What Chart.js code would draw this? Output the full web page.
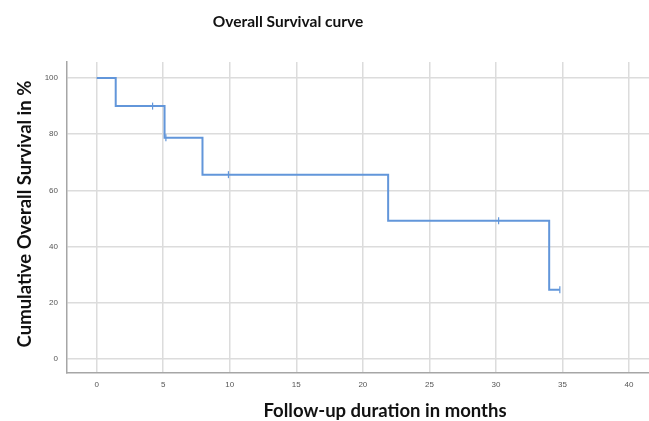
<!DOCTYPE html>
<html>
<head>
<meta charset="utf-8">
<script src="https://cdn.jsdelivr.net/npm/chart.js@4/dist/chart.umd.min.js"></script>
<style>
  html, body { margin: 0; padding: 0; background: #fff; }
  #wrap { width: 649px; height: 421px; position: relative; }
</style>
</head>
<body>
<div id="wrap"><canvas id="survivalChart"></canvas></div>
<script>
"use strict"

// Kaplan-Meier steps
const eventTimes = [0, 1.43, 5.1, 7.95, 21.9, 34.0, 34.8]
const survival = [100, 90, 78.75, 65.6, 49.2, 24.6, 24.6]

// censored cases (small vertical ticks)
const censorTimes = [4.2, 5.2, 9.9, 30.2, 34.8]
const censorSurvival = [90, 78.75, 65.6, 49.2, 24.6]

const xTicks = [0, 5, 10, 15, 20, 25, 30, 35, 40]
const yTicks = [0, 20, 40, 60, 80, 100]

const chartTitle = 'Overall Survival curve'
const xTitle = 'Follow-up duration in months'
const yTitle = 'Cumulative Overall Survival in %'

const lineBlue = 'rgb(98, 150, 218)'
const gridGrey = '#dcdcdc'
const axisGrey = '#a6a6a6'
const titleFont = 'Lato'

// titles are placed by hand, the original was cropped so they are off-centre
let titlesPlugin = {
    id: 'titles',
    afterDraw: function(chart) {
        let ctx = chart.ctx
        ctx.save()
        ctx.fillStyle = '#111'
        ctx.textAlign = 'center'
        ctx.textBaseline = 'middle'

        ctx.font = 'bold 15.5px ' + titleFont
        ctx.fillText(chartTitle, 288, 22)

        ctx.font = 'bold 18.5px ' + titleFont
        ctx.fillText(xTitle, 385, 411)

        ctx.translate(25, 214)
        ctx.rotate(-Math.PI / 2)
        ctx.fillText(yTitle, 0, 0)
        ctx.restore()
    }
}

let toPoints = (xs, ys) => xs.map((x, i) => ({ x: x, y: ys[i] }))

let ctx = document.getElementById('survivalChart').getContext('2d')
let myChart = new Chart(ctx, {
    type: 'line',
    data: {
        datasets: [{
            label: 'survival',
            data: toPoints(eventTimes, survival),
            stepped: true,
            borderColor: lineBlue,
            borderWidth: 2,
            pointRadius: 0,
            fill: false
        }, {
            label: 'censored',
            data: toPoints(censorTimes, censorSurvival),
            showLine: false,
            pointStyle: 'line',
            rotation: 90,
            pointRadius: 3.5,
            pointBorderWidth: 1.2,
            pointBorderColor: lineBlue,
            pointBackgroundColor: lineBlue
        }]
    },
    options: {
        responsive: true,
        maintainAspectRatio: false,
        animation: false,
        layout: {
            autoPadding: false,
            padding: { top: 62, right: 0, bottom: 0, left: 0 }
        },
        plugins: {
            legend: { display: false },
            tooltip: { enabled: false },
            title: { display: false }
        },
        scales: {
            x: {
                type: 'linear',
                min: -2.23,
                max: 41.5,
                afterFit: s => { s.height = 48 },
                afterBuildTicks: s => { s.ticks = xTicks.map(v => ({ value: v })) },
                grid: { color: gridGrey, lineWidth: 1.5, drawTicks: false },
                border: { color: axisGrey, width: 1.5 },
                ticks: {
                    padding: 7,
                    color: '#555',
                    font: { family: 'Liberation Sans', size: 8 }
                }
            },
            y: {
                type: 'linear',
                min: -5,
                max: 105.7,
                afterFit: s => { s.width = 67 },
                afterBuildTicks: s => { s.ticks = yTicks.map(v => ({ value: v })) },
                grid: { color: gridGrey, lineWidth: 1.5, drawTicks: false },
                border: { color: axisGrey, width: 1.5 },
                ticks: {
                    padding: 9,
                    color: '#555',
                    font: { family: 'Liberation Sans', size: 8 }
                }
            }
        }
    },
    plugins: [titlesPlugin]
})
</script>
</body>
</html>
